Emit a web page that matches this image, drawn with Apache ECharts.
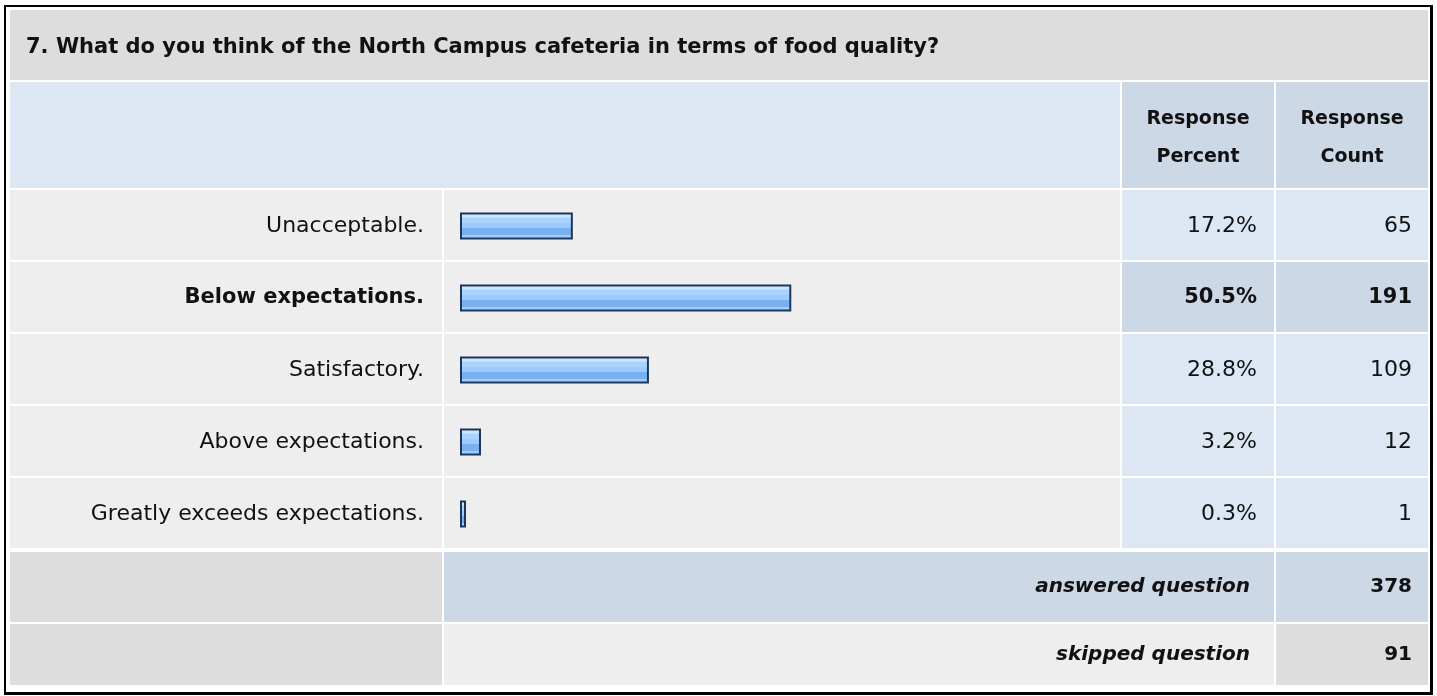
<!DOCTYPE html>
<html>
<head>
<meta charset="utf-8">
<title>North Campus cafeteria - food quality</title>
<script src="https://cdn.jsdelivr.net/npm/echarts@6/dist/echarts.min.js"></script>
<style>
  html, body { margin: 0; padding: 0; background: #fff; }
  #chart { width: 1437px; height: 696px; }
</style>
</head>
<body>
<div id="chart"></div>
<script>
const question = '7. What do you think of the North Campus cafeteria in terms of food quality?'
const answerChoices = ['Unacceptable.', 'Below expectations.', 'Satisfactory.', 'Above expectations.', 'Greatly exceeds expectations.']
const responsePercent = [17.2, 50.5, 28.8, 3.2, 0.3]
const responseCount = [65, 191, 109, 12, 1]
const answeredQuestion = 378
const skippedQuestion = 91

const font = 'DejaVu Sans'
const ink = '#111'
const colors = {
  title: '#dddddd', head: '#dde7f4', headDark: '#cdd8e6',
  row: '#eeeeee', cell: '#dde7f4', cellDark: '#cdd8e6', foot: '#dddddd'
}

// table layout in px
const colLabel = [10, 442], colBar = [444, 1120], colPct = [1122, 1274], colCnt = [1276, 1428]
const titleRow = [10, 80], headRow = [82, 188]
const rowTop = 190, rowH = 72
const footRows = [[552, 622], [624, 685]]

// the most chosen answer gets bold text and darker cells
const topIdx = responsePercent.indexOf(Math.max(...responsePercent))

function rect(col, row, fill) {
  return { type: 'rect', z: -10, silent: true,
    shape: { x: col[0], y: row[0], width: col[1] - col[0], height: row[1] - row[0] },
    style: { fill: fill } }
}
function text(x, y, str, fnt, align) {
  return { type: 'text', z: 10, silent: true, x: x, y: y,
    style: { text: str, font: fnt, fill: ink, textAlign: align || 'right', textVerticalAlign: 'middle', lineHeight: 38 } }
}

const bg = []
// outer frame
bg.push({ type: 'rect', z: -20, silent: true, shape: { x: 4, y: 5, width: 1429, height: 690 }, style: { fill: '#000' } })
bg.push({ type: 'rect', z: -19, silent: true, shape: { x: 6, y: 7, width: 1424, height: 685 }, style: { fill: '#fff' } })
bg.push(rect([colLabel[0], colCnt[1]], titleRow, colors.title))
bg.push(rect([colLabel[0], colBar[1]], headRow, colors.head))
bg.push(rect(colPct, headRow, colors.headDark))
bg.push(rect(colCnt, headRow, colors.headDark))
answerChoices.forEach((c, i) => {
  const row = [rowTop + i * rowH, rowTop + i * rowH + rowH - 2]
  const side = i === topIdx ? colors.cellDark : colors.cell
  bg.push(rect(colLabel, row, colors.row))
  bg.push(rect(colBar, row, colors.row))
  bg.push(rect(colPct, row, side))
  bg.push(rect(colCnt, row, side))
})
bg.push(rect(colLabel, footRows[0], colors.foot))
bg.push(rect([colBar[0], colPct[1]], footRows[0], colors.headDark))
bg.push(rect(colCnt, footRows[0], colors.headDark))
bg.push(rect(colLabel, footRows[1], colors.foot))
bg.push(rect([colBar[0], colPct[1]], footRows[1], colors.row))
bg.push(rect(colCnt, footRows[1], colors.foot))

const headFont = 'bold 19px "DejaVu Sans"'
const footFont = 'italic bold 20px "DejaVu Sans"'
const mid = r => (r[0] + r[1]) / 2
bg.push(text(mid(colPct), mid(headRow) + 3, 'Response\nPercent', headFont, 'center'))
bg.push(text(mid(colCnt), mid(headRow) + 3, 'Response\nCount', headFont, 'center'))
bg.push(text(1250, mid(footRows[0]), 'answered question', footFont))
bg.push(text(1412, mid(footRows[0]), String(answeredQuestion), 'bold 20px "DejaVu Sans"'))
bg.push(text(1250, mid(footRows[1]), 'skipped question', footFont))
bg.push(text(1412, mid(footRows[1]), String(skippedQuestion), 'bold 20px "DejaVu Sans"'))

const barFill = new echarts.graphic.LinearGradient(0, 0, 0, 1, [
  { offset: 0, color: '#cde6ff' }, { offset: 0.18, color: '#cde6ff' },
  { offset: 0.19, color: '#aad3ff' }, { offset: 0.38, color: '#aad3ff' },
  { offset: 0.39, color: '#9ccbff' }, { offset: 0.56, color: '#9ccbff' },
  { offset: 0.57, color: '#79b1f0' }, { offset: 0.84, color: '#79b1f0' },
  { offset: 0.85, color: '#9ecdff' }, { offset: 1, color: '#9ecdff' }
])

const labelStyle = { fontFamily: font, fontSize: 22, color: ink }
const boldRich = { b: { fontFamily: font, fontSize: 21, fontWeight: 'bold', color: ink } }
function sideAxis(margin, fmt) {
  return {
    type: 'category', data: answerChoices, inverse: true, position: 'right',
    axisLine: { show: false }, axisTick: { show: false },
    axisLabel: { ...labelStyle, margin: margin, align: 'right', rich: boldRich,
      formatter: (v, i) => i === topIdx ? '{b|' + fmt(i) + '}' : fmt(i) }
  }
}

const option = {
  animation: false,
  title: {
    text: question, left: 26, top: 35, padding: 0,
    textStyle: { fontFamily: font, fontSize: 21, fontWeight: 'bold', color: ink, lineHeight: 26 }
  },
  grid: { left: 460, top: rowTop, width: 656, height: rowH * answerChoices.length },
  xAxis: { type: 'value', min: 0, max: 100, show: false },
  yAxis: [
    {
      type: 'category', data: answerChoices, inverse: true,
      axisLine: { show: false }, axisTick: { show: false },
      axisLabel: { ...labelStyle, margin: 36, rich: boldRich,
        formatter: (v, i) => i === topIdx ? '{b|' + v + '}' : v }
    },
    sideAxis(141, i => responsePercent[i].toFixed(1) + '%'),
    sideAxis(296, i => String(responseCount[i]))
  ],
  series: [{
    type: 'bar', data: responsePercent, barWidth: 27, barMinHeight: 6, silent: true,
    itemStyle: { color: barFill, borderColor: '#1e3659', borderWidth: 2 }
  }],
  graphic: bg
}

const chart = echarts.init(document.getElementById('chart'))
chart.setOption(option)
</script>
</body>
</html>
